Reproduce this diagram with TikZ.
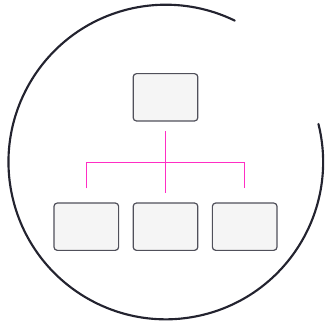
\documentclass[tikz,border=0pt]{standalone}
\usepackage{tikz}
\usetikzlibrary{positioning, calc}
\definecolor{cerchio}{HTML}{23232F}
\definecolor{bordo}{HTML}{50505A}
\definecolor{riempi}{HTML}{F5F5F5}
\definecolor{rosa}{HTML}{FF2EC4}

\begin{document}
\begin{tikzpicture}[x=0.75pt, y=-0.75pt, line cap=round,
    casella/.style={draw=bordo, fill=riempi, line width=0.9pt, rounded corners=2.5pt,
      inner sep=0pt, minimum width=48.5pt, minimum height=35.5pt},
    ramo/.style={draw=rosa, line width=1pt, line cap=butt}]

\useasboundingbox (0,0) rectangle (328,325);

% Cerchio aperto
\draw[cerchio, line width=1.6pt] (165.8,162) ++(-14:157.3) arc[start angle=-14, end angle=296, radius=157.3];

% Caselle
\node[casella] (capo) at (165.5,97.3) {};
\node[casella] (centro) at (165.5,226.7) {};
\node[casella, left=10pt of centro] (sinistra) {};
\node[casella, right=10pt of centro] (destra) {};

% Rami
\coordinate (nodo) at ($(capo.south)+(0,41)$);
\coordinate (bs) at (sinistra.north |- nodo);
\coordinate (bd) at (destra.north |- nodo);
\draw[ramo] ($(sinistra.north)-(0,14)$) -- (bs) -- (bd) -- ($(destra.north)-(0,14)$)
  ($(capo.south)+(0,9.5)$) -- ($(centro.north)-(0,9)$);

\end{tikzpicture}
\end{document}
